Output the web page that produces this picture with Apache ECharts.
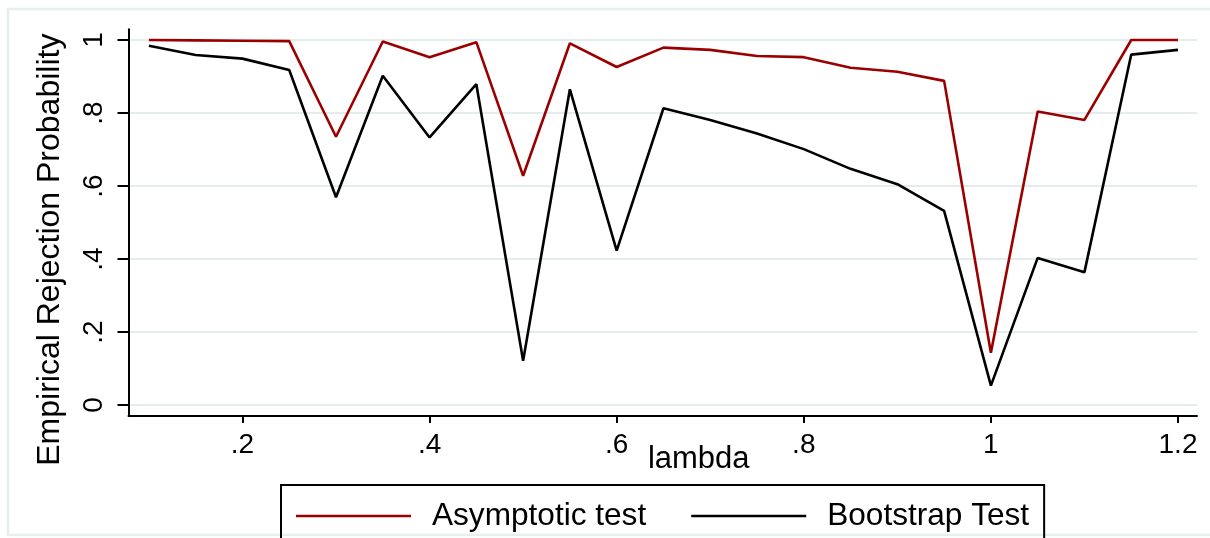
<!DOCTYPE html>
<html>
<head>
<meta charset="utf-8">
<title>Empirical Rejection Probability</title>
<script src="https://cdn.jsdelivr.net/npm/echarts@6/dist/echarts.min.js"></script>
<style>
  html, body { margin: 0; padding: 0; background: #fff; }
  #main { width: 1210px; height: 538px; }
</style>
</head>
<body>
<div id="main"></div>
<script>
// lambda grid and rejection rates
let lambdas = [0.1, 0.15, 0.2, 0.25, 0.3, 0.35, 0.4, 0.45, 0.5, 0.55, 0.6, 0.65,
    0.7, 0.75, 0.8, 0.85, 0.9, 0.95, 1.0, 1.05, 1.1, 1.15, 1.2];
let asymptotic = [1.0, 0.999, 0.998, 0.997, 0.735, 0.996, 0.953, 0.994, 0.628, 0.991, 0.926, 0.979,
    0.973, 0.956, 0.953, 0.924, 0.913, 0.888, 0.143, 0.804, 0.781, 1.0, 1.0];
let bootstrap = [0.984, 0.959, 0.949, 0.918, 0.569, 0.902, 0.733, 0.879, 0.121, 0.865, 0.423, 0.813,
    0.781, 0.744, 0.701, 0.647, 0.605, 0.532, 0.053, 0.403, 0.364, 0.960, 0.973];
let xTicks = [0.2, 0.4, 0.6, 0.8, 1, 1.2];
let seriesNames = ['Asymptotic test', 'Bootstrap Test'];

// stata style labels: ".2" instead of "0.2"
function fmt(v) {
    let s = String(Math.round(v * 10) / 10);
    return s.replace(/^0\./, '.');
}

function pairs(ys) {
    return lambdas.map(function (x, i) { return [x, ys[i]]; });
}

(function () {
    let myChart = echarts.init(document.getElementById('main'));
    let xMin = 0.0782, xMax = 1.2203;
    let option = {
        animation: false,
        textStyle: { fontFamily: 'Liberation Sans, Arial, sans-serif', color: '#000' },
        graphic: [{
            type: 'rect',
            shape: { x: 8, y: 9, width: 1215, height: 526 },
            style: { fill: 'none', stroke: '#e6eef0', lineWidth: 2.5 },
            z: -1
        }],
        legend: {
            data: seriesNames,
            left: 281,
            top: 485,
            icon: 'rect',
            itemWidth: 115,
            itemHeight: 2.5,
            itemGap: 45,
            padding: [15, 15, 30, 15],
            borderColor: '#000',
            borderWidth: 2,
            textStyle: { fontSize: 31.6, color: '#000', padding: [0, 0, 0, 16] }
        },
        grid: [
            // frame with the axis lines
            { left: 128.5, right: 13, top: 29.3, bottom: 122 },
            // 0..1 plot region, carries the ticks, grid lines and the data
            { left: 128.5, right: 13, top: 40, bottom: 133 }
        ],
        xAxis: [
            {
                type: 'value', gridIndex: 0, min: xMin, max: xMax,
                axisLine: { show: true, onZero: false, lineStyle: { color: '#000', width: 2 } },
                axisTick: { show: true, customValues: xTicks, length: 7, lineStyle: { color: '#000', width: 2 } },
                axisLabel: { customValues: xTicks, formatter: fmt, fontSize: 28, color: '#000', margin: 15 },
                splitLine: { show: false },
                name: 'lambda',
                nameLocation: 'middle',
                nameMoveOverlap: false,
                nameGap: 28,
                nameTextStyle: { fontSize: 31, color: '#000', padding: [0, 0, 0, 72] }
            },
            { type: 'value', gridIndex: 1, min: xMin, max: xMax, show: false }
        ],
        yAxis: [
            {
                type: 'value', gridIndex: 0, min: -0.03, max: 1.029,
                axisLine: { show: true, onZero: false, lineStyle: { color: '#000', width: 2 } },
                axisTick: { show: false },
                axisLabel: { show: false },
                splitLine: { show: false },
                name: 'Empirical Rejection Probability',
                nameLocation: 'middle',
                nameMoveOverlap: false,
                nameRotate: 90,
                nameGap: 62,
                nameTextStyle: { fontSize: 32, color: '#000', padding: [0, 54, 0, 0] }
            },
            {
                type: 'value', gridIndex: 1, min: 0, max: 1, interval: 0.2,
                axisLine: { show: false },
                axisTick: { show: true, length: 11, lineStyle: { color: '#000', width: 2 } },
                axisLabel: { formatter: fmt, rotate: 90, fontSize: 28, color: '#000', margin: 20 },
                splitLine: { show: true, lineStyle: { color: '#e4ecee', width: 2 } }
            }
        ],
        series: [
            {
                name: seriesNames[0],
                type: 'line',
                xAxisIndex: 1, yAxisIndex: 1,
                data: pairs(asymptotic),
                showSymbol: false,
                clip: false,
                color: '#9b0000',
                lineStyle: { width: 2.6, color: '#9b0000' }
            },
            {
                name: seriesNames[1],
                type: 'line',
                xAxisIndex: 1, yAxisIndex: 1,
                data: pairs(bootstrap),
                showSymbol: false,
                clip: false,
                color: '#000',
                lineStyle: { width: 2.6, color: '#000' }
            }
        ]
    };
    myChart.setOption(option);
    window.addEventListener('resize', function () {
        myChart.resize()
    })
})();
</script>
</body>
</html>
